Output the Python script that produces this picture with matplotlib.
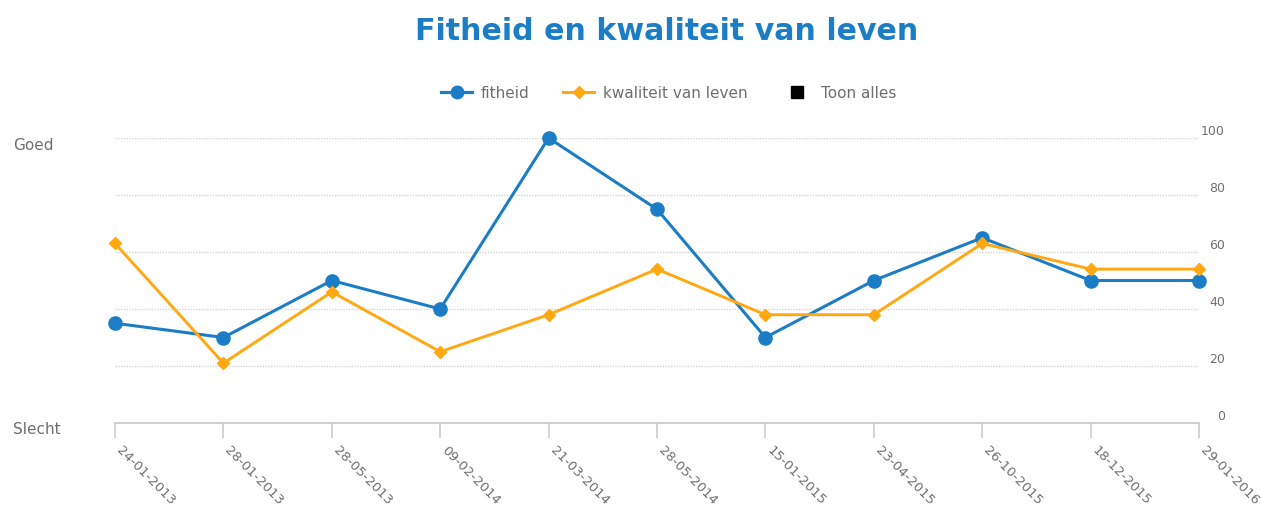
import matplotlib
matplotlib.use("Agg")
import matplotlib.pyplot as plt
import matplotlib.transforms as mtransforms
from matplotlib.lines import Line2D

# data
dates = ["24-01-2013", "28-01-2013", "28-05-2013", "09-02-2014", "21-03-2014",
         "28-05-2014", "15-01-2015", "23-04-2015", "26-10-2015", "18-12-2015",
         "29-01-2016"]
fitheid = [35, 30, 50, 40, 100, 75, 30, 50, 65, 50, 50]
kwaliteit = [63, 21, 46, 25, 38, 54, 38, 38, 63, 54, 54]
yticks = [0, 20, 40, 60, 80, 100]

blue = "#1b7dc6"
orange = "#ffa812"
grey = "#6e6e6e"

plt.rcParams['font.family'] = ['DejaVu Sans']

fig = plt.figure(figsize=(12.62, 5.06), dpi=100)
ax = fig.add_axes([115 / 1262, 82 / 506, 1084 / 1262, 285 / 506])

x = list(range(len(dates)))
ax.plot(x, fitheid, color=blue, lw=2.2, marker="o", ms=9.5, clip_on=False, zorder=3)
ax.plot(x, kwaliteit, color=orange, lw=2.1, marker="D", ms=6.5, clip_on=False, zorder=4)

ax.set_xlim(0, len(dates) - 1)
ax.set_ylim(0, 100)

# dotted grid, no line at 0
for v in yticks[1:]:
    ax.axhline(v, color="#d4d4d4", lw=1, ls=(0, (1, 1)), zorder=1)

for s in ["top", "left", "right"]:
    ax.spines[s].set_visible(False)
ax.spines["bottom"].set_color("#cccccc")
ax.spines["bottom"].set_linewidth(1.3)

ax.set_yticks([])
ax.set_xticks(x)
ax.set_xticklabels(dates, rotation=-45, ha="left", va="top",
                   rotation_mode="anchor", fontsize=9.5, color=grey)
ax.tick_params(axis="x", length=11, width=1.2, color="#cccccc", pad=3)
shift = mtransforms.ScaledTranslation(8 / 100, 0, fig.dpi_scale_trans)
for lab in ax.get_xticklabels():
    lab.set_transform(lab.get_transform() + shift)

# right-side value labels sit a bit above the grid lines
trans = mtransforms.blended_transform_factory(ax.transAxes, ax.transData)
for v in yticks:
    ax.text(1.024, v + 2.6, str(v), transform=trans, ha="right", va="center",
            fontsize=9, color=grey)

fig.text(13 / 1262, 1 - 145 / 506, "Goed", ha="left", va="center", fontsize=11, color=grey)
fig.text(13 / 1262, 1 - 430 / 506, "Slecht", ha="left", va="center", fontsize=11, color=grey)

fig.text(0.528, 1 - 32 / 506, "Fitheid en kwaliteit van leven", ha="center", va="center",
         fontsize=21.6, fontweight="bold", color=blue)

handles = [
    Line2D([], [], color=blue, lw=2.3, marker="o", ms=9),
    Line2D([], [], color=orange, lw=2.2, marker="D", ms=6),
    Line2D([], [], color="black", lw=0, marker="s", ms=9),
]
fig.legend(handles, ["fitheid", "kwaliteit van leven", "Toon alles"], ncol=3,
           loc="center", bbox_to_anchor=(0.53, 1 - 94 / 506), frameon=False,
           fontsize=11, labelcolor=grey, handlelength=2.0, columnspacing=2.2,
           handletextpad=0.6)

fig.savefig("out.png", dpi=100)
